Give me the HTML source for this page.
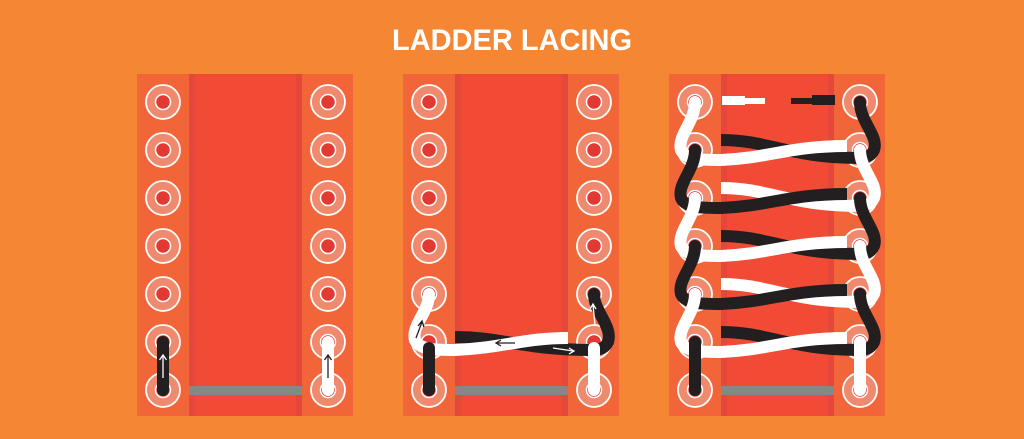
<!DOCTYPE html>
<html><head><meta charset="utf-8"><style>
html,body{margin:0;padding:0;background:#F58634;}
svg{display:block;}
</style></head><body>
<svg width="1024" height="439" viewBox="0 0 1024 439" xmlns="http://www.w3.org/2000/svg">
<defs>
<g id="board">
  <rect x="0" y="0" width="216" height="342" fill="#F26539"/>
  <rect x="52" y="0" width="113" height="342" fill="#E5473A"/>
  <rect x="58" y="0" width="101" height="342" fill="#F14B35"/>
  <rect x="52" y="312" width="113" height="9" fill="#85878A"/>
</g>
<g id="hole">
  <circle r="17" fill="#F08A6E" stroke="#fff" stroke-width="1.8"/>
  <circle r="7.5" fill="#E23A33" stroke="#fff" stroke-width="1.5"/>
</g>
<g id="holes">
  <use href="#hole" x="26" y="102"/><use href="#hole" x="26" y="150"/><use href="#hole" x="26" y="198"/><use href="#hole" x="26" y="246"/><use href="#hole" x="26" y="294"/><use href="#hole" x="26" y="342"/><use href="#hole" x="26" y="390"/>
  <use href="#hole" x="191" y="102"/><use href="#hole" x="191" y="150"/><use href="#hole" x="191" y="198"/><use href="#hole" x="191" y="246"/><use href="#hole" x="191" y="294"/><use href="#hole" x="191" y="342"/><use href="#hole" x="191" y="390"/>
</g>
</defs>

<text x="512" y="50" text-anchor="middle" font-family="Liberation Sans, sans-serif" font-weight="bold" font-size="30" fill="#fff" textLength="240" lengthAdjust="spacingAndGlyphs">LADDER LACING</text>

<!-- Panel 1 -->
<g transform="translate(137,0)">
  <use href="#board" y="74"/>
  <use href="#holes"/>
  <g fill="none" stroke-linecap="round" stroke-width="12">
    <line x1="26" y1="342" x2="26" y2="390" stroke="#231F20"/>
    <line x1="191" y1="342" x2="191" y2="390" stroke="#fff"/>
  </g>
  <g fill="none" stroke-width="1.3">
    <line x1="26" y1="378" x2="26" y2="356" stroke="#fff"/>
    <path d="M22.5,360 L26,355 L29.5,360" stroke="#fff"/>
    <line x1="191" y1="378" x2="191" y2="356" stroke="#231F20"/>
    <path d="M187.5,360 L191,355 L194.5,360" stroke="#231F20"/>
  </g>
</g>

<!-- Panel 2 -->
<g transform="translate(403,0)">
  <use href="#board" y="74"/>
  <use href="#holes"/>
  <g fill="none" stroke-linecap="round" stroke-width="12">
    <path d="M52,337 C100,337 120,350 191,350" stroke="#231F20" stroke-linecap="butt"/>
    <path d="M26,294 C26,312 8,326 12,340 C16,350 34,350 52,350 C100,348 120,338 165,338" stroke="#fff" stroke-linecap="butt"/>
    <path d="M26,294 C26,312 8,326 12,340" stroke="#fff"/>
    <path d="M191,294 C191,312 210,326 205,342 C201,350 195,350 185,350" stroke="#231F20"/>
    <line x1="26" y1="348" x2="26" y2="390" stroke="#231F20"/>
    <line x1="191" y1="348" x2="191" y2="390" stroke="#fff"/>
  </g>
  <g fill="none" stroke-width="1.3">
    <path d="M13,338 L19,322 M15,326 L19,321 L21,327" stroke="#231F20"/>
    <path d="M112,343 L94,343 M98,340 L93,343 L98,346" stroke="#231F20"/>
    <path d="M150,348 L170,351 M166,348 L171,351 L166,354" stroke="#fff"/>
    <path d="M192,325 L190,305 M187,309 L190,304 L193,309" stroke="#fff"/>
  </g>
</g>

<!-- Panel 3 -->
<g transform="translate(669,0)">
  <use href="#board" y="74"/>
  <use href="#holes"/>
  <rect x="53" y="96" width="23" height="9" fill="#fff"/>
  <rect x="76" y="98" width="20" height="6" fill="#fff"/>
  <rect x="122" y="98" width="21" height="6" fill="#231F20"/>
  <rect x="143" y="95" width="23" height="10" fill="#231F20"/>
  <g fill="none" stroke-width="12" stroke-linecap="round">
    <!-- row 150: white top, black under -->
    <path d="M52,140 C100,140 120,158 191,158" stroke="#231F20" stroke-linecap="butt"/>
    <path d="M191,102 C191,122 210,136 205,150 C201,158 195,158 188,158" stroke="#231F20"/>
    <path d="M52,160 C100,158 120,146 178,146" stroke="#fff" stroke-linecap="butt"/>
    <path d="M26,102 C26,122 8,136 12,150 C16,160 34,160 52,160" stroke="#fff"/>
    <!-- row 198: black top, white under -->
    <path d="M52,188 C100,188 120,206 191,206" stroke="#fff" stroke-linecap="butt"/>
    <path d="M191,150 C191,170 210,184 205,198 C201,206 195,206 188,206" stroke="#fff"/>
    <path d="M52,208 C100,206 120,194 178,194" stroke="#231F20" stroke-linecap="butt"/>
    <path d="M26,150 C26,170 8,184 12,198 C16,208 34,208 52,208" stroke="#231F20"/>
    <!-- row 246: white top -->
    <path d="M52,236 C100,236 120,254 191,254" stroke="#231F20" stroke-linecap="butt"/>
    <path d="M191,198 C191,218 210,232 205,246 C201,254 195,254 188,254" stroke="#231F20"/>
    <path d="M52,256 C100,254 120,242 178,242" stroke="#fff" stroke-linecap="butt"/>
    <path d="M26,198 C26,218 8,232 12,246 C16,256 34,256 52,256" stroke="#fff"/>
    <!-- row 294: black top -->
    <path d="M52,284 C100,284 120,302 191,302" stroke="#fff" stroke-linecap="butt"/>
    <path d="M191,246 C191,266 210,280 205,294 C201,302 195,302 188,302" stroke="#fff"/>
    <path d="M52,304 C100,302 120,290 178,290" stroke="#231F20" stroke-linecap="butt"/>
    <path d="M26,246 C26,266 8,280 12,294 C16,304 34,304 52,304" stroke="#231F20"/>
    <!-- row 342: white top -->
    <path d="M52,332 C100,332 120,350 191,350" stroke="#231F20" stroke-linecap="butt"/>
    <path d="M191,294 C191,314 210,328 205,342 C201,350 195,350 188,350" stroke="#231F20"/>
    <path d="M52,352 C100,350 120,338 178,338" stroke="#fff" stroke-linecap="butt"/>
    <path d="M26,294 C26,314 8,328 12,342 C16,352 34,352 52,352" stroke="#fff"/>
    <!-- bottom straights -->
    <line x1="26" y1="342" x2="26" y2="390" stroke="#231F20"/>
    <line x1="191" y1="342" x2="191" y2="390" stroke="#fff"/>
  </g>
</g>
</svg>
</body></html>
